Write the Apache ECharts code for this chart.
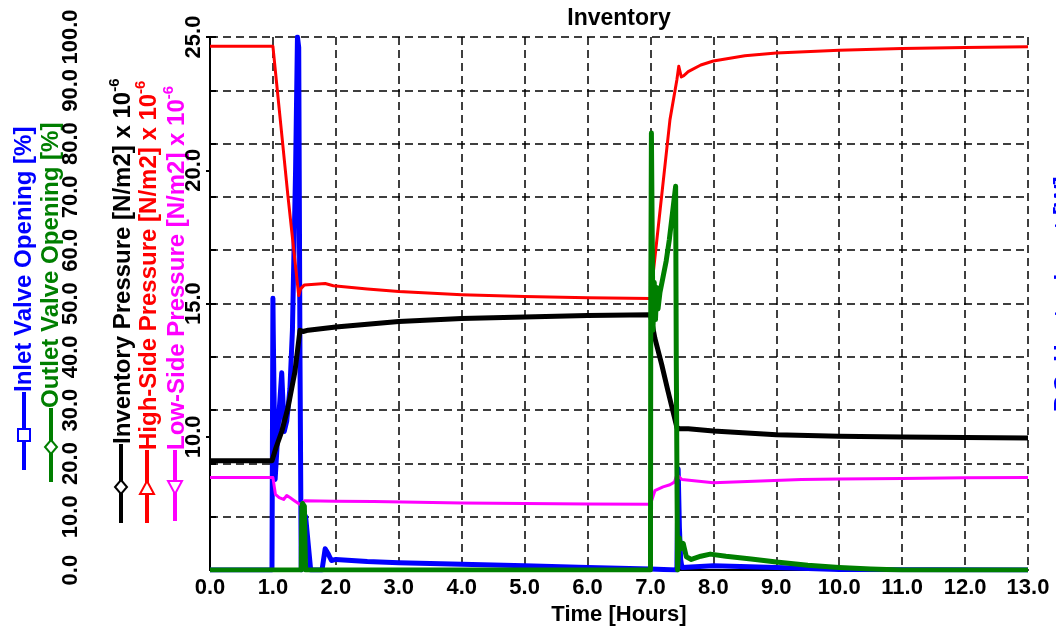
<!DOCTYPE html>
<html><head><meta charset="utf-8">
<script src="https://cdn.jsdelivr.net/npm/echarts@6/dist/echarts.min.js"></script>
<style>html,body{margin:0;padding:0;background:#fff;overflow:hidden}#c{width:1056px;height:631px}</style>
</head><body><div id="c"></div>
<script>
// ---- data (time in hours) ----
const inletT = [0, 0.985, 1.0, 1.005, 1.035, 1.06, 1.1, 1.14, 1.18, 1.22, 1.27, 1.31, 1.36, 1.39, 1.41, 1.43, 1.45, 1.48, 1.52, 1.56, 1.6, 1.78, 1.83, 1.88, 1.93, 2.0, 2.5, 3.0, 4.0, 5.0, 6.0, 7.0, 7.42, 7.44, 7.46, 7.48, 7.5, 8.0, 9.0, 10.0, 13.0];
const inletV = [0, 0, 51, 45, 17, 22, 30, 37, 26, 28, 34, 45, 75, 100, 98, 40, 0, 11, 10, 5, 0, 0, 4, 3, 1.8, 2.0, 1.6, 1.4, 1.1, 0.8, 0.5, 0.2, 0, 19, 8, 2, 0.5, 0.8, 0.5, 0.1, 0];

const outletT = [0, 1.45, 1.46, 1.47, 1.5, 1.51, 1.52, 7.0, 7.005, 7.015, 7.04, 7.06, 7.08, 7.1, 7.12, 7.15, 7.2, 7.25, 7.3, 7.35, 7.4, 7.41, 7.43, 7.46, 7.48, 7.52, 7.57, 7.65, 7.8, 7.95, 8.2, 8.6, 9.0, 9.5, 10.0, 10.5, 11.0, 13.0];
const outletV = [0, 0, 12, 12.5, 12, 5, 0, 0, 50, 82, 45, 54, 47, 53, 49, 52, 55, 58, 62, 67, 72, 40, 0, 6, 4, 5, 2.5, 2, 2.6, 3, 2.6, 2.1, 1.5, 0.9, 0.5, 0.2, 0, 0];

const invT = [0, 0.985, 1.05, 1.14, 1.24, 1.35, 1.43, 1.48, 1.56, 2.0, 3.0, 4.0, 5.0, 6.0, 7.0, 7.07, 7.18, 7.28, 7.42, 7.46, 7.6, 8.0, 9.0, 10.0, 11.0, 12.0, 13.0];
const invP = [9.1, 9.1, 9.6, 10.2, 11.1, 12.45, 14.0, 13.95, 14.0, 14.12, 14.33, 14.44, 14.5, 14.55, 14.58, 13.7, 12.7, 11.7, 10.35, 10.3, 10.3, 10.22, 10.08, 10.02, 9.99, 9.97, 9.96];

const highT = [0, 1.0, 1.24, 1.41, 1.44, 1.5, 1.83, 1.96, 2.5, 3.0, 4.0, 5.0, 6.0, 7.0, 7.02, 7.31, 7.42, 7.45, 7.49, 7.53, 7.6, 7.8, 8.0, 8.5, 9.0, 10.0, 11.0, 12.0, 13.0];
const highP = [24.65, 24.65, 19.0, 15.3, 15.55, 15.7, 15.75, 15.67, 15.55, 15.45, 15.33, 15.26, 15.22, 15.19, 15.19, 21.9, 23.4, 23.9, 23.5, 23.55, 23.7, 23.95, 24.1, 24.3, 24.4, 24.5, 24.57, 24.61, 24.63];

const lowT = [0, 1.0, 1.04, 1.1, 1.17, 1.22, 1.27, 1.33, 1.43, 1.5, 2.0, 2.6, 4.0, 5.0, 6.0, 7.0, 7.07, 7.2, 7.31, 7.38, 7.42, 7.5, 8.0, 9.4, 10.0, 11.0, 12.0, 13.0];
const lowP = [8.47, 8.47, 7.84, 7.72, 7.65, 7.8, 7.72, 7.62, 7.46, 7.6, 7.58, 7.57, 7.52, 7.5, 7.48, 7.47, 7.98, 8.12, 8.2, 8.3, 8.58, 8.4, 8.28, 8.4, 8.42, 8.44, 8.46, 8.47];

const timeTicks = [0, 13, 1];      // min, max, interval (hours)
const valveTicks = [0, 100, 10];   // %
const pressTicks = [5, 25, 5];     // N/m2 x 1e-6

const FONT = '"Liberation Sans", Arial, Helvetica, sans-serif';
const pairs = (t, v) => t.map((x, i) => [x, v[i]]);

const chart = echarts.init(document.getElementById('c'), null, {renderer: 'canvas'});
const dash = {color: '#000', width: 1.5, type: [8, 5]};

function mkLine(name, t, v, color, width, yIdx) {
  return {name, type: 'line', yAxisIndex: yIdx, data: pairs(t, v), showSymbol: false,
    lineStyle: {color, width, join: 'round'}, itemStyle: {color}, clip: true, animation: false};
}

// legend-like axis titles on the left (rotated)
function legendTitle(x, yStart, yLineEnd, yMarker, color, rich, marker) {
  const els = [];
  els.push({type: 'line', shape: {x1: x, y1: yStart, x2: x, y2: yLineEnd},
    style: {stroke: color, lineWidth: 4}});
  const s = 6;
  let m;
  if (marker === 'square') m = {type: 'rect', shape: {x: x - s, y: yMarker - s, width: 2 * s, height: 2 * s}};
  else if (marker === 'diamond') m = {type: 'polygon', shape: {points: [[x, yMarker - 7], [x + 6, yMarker], [x, yMarker + 7], [x - 6, yMarker]]}};
  else if (marker === 'up') m = {type: 'polygon', shape: {points: [[x, yMarker - 7], [x + 7, yMarker + 6], [x - 7, yMarker + 6]]}};
  else m = {type: 'polygon', shape: {points: [[x, yMarker + 7], [x + 7, yMarker - 6], [x - 7, yMarker - 6]]}};
  m.style = {fill: '#fff', stroke: color, lineWidth: 2};
  els.push(m);
  els.push({type: 'text', x: x, y: yStart, rotation: Math.PI / 2,
    style: {text: rich.text, rich: rich.rich, fill: color, font: 'bold 24px ' + FONT,
      align: 'left', verticalAlign: 'middle'}});
  return els;
}
function pressRich(label, color) {
  return {text: '{a|' + label + ' [N/m2] x 10}{s|-6}',
    rich: {a: {fontSize: 24, fontWeight: 'bold', fontFamily: FONT, fill: color, color: color, lineHeight: 28, verticalAlign: 'bottom'},
           s: {fontSize: 15, fontWeight: 'bold', fontFamily: FONT, fill: color, color: color, verticalAlign: 'top', lineHeight: 28}}};
}

const graphics = [].concat(
  legendTitle(24, 392, 470, 435, '#0000ff', {text: 'Inlet Valve Opening [%]'}, 'square'),
  legendTitle(51, 408, 482, 447, '#007f00', {text: 'Outlet Valve Opening [%]'}, 'diamond'),
  legendTitle(121, 444, 523, 487, '#000000', pressRich('Inventory Pressure', '#000'), 'diamond'),
  legendTitle(147, 450, 523, 488, '#ff0000', pressRich('High-Side Pressure', '#ff0000'), 'up'),
  legendTitle(175, 450, 521, 487, '#ff00ff', pressRich('Low-Side Pressure', '#ff00ff'), 'down'),
  [{type: 'text', x: 1064, y: 412, rotation: Math.PI / 2,
    style: {text: 'P.C. Heater Input [W]', fill: '#0000ff', font: 'bold 24px ' + FONT, align: 'left', verticalAlign: 'middle'}},
   {type: 'line', shape: {x1: 1062, y1: 414, x2: 1062, y2: 445}, style: {stroke: '#e8e000', lineWidth: 4}}]
);

chart.setOption({
  backgroundColor: '#fff',
  animation: false,
  title: {text: 'Inventory', left: 614, top: 2, textAlign: 'center',
    textStyle: {fontFamily: FONT, fontWeight: 'bold', fontSize: 23, color: '#000'}},
  grid: {left: 210, right: 28, top: 37, bottom: 58, containLabel: false},
  xAxis: {type: 'value', min: timeTicks[0], max: timeTicks[1], interval: timeTicks[2],
    name: 'Time [Hours]', nameLocation: 'middle', nameGap: 28,
    nameTextStyle: {fontFamily: FONT, fontWeight: 'bold', fontSize: 22, color: '#000'},
    axisLine: {show: true, onZero: false, lineStyle: {color: '#000', width: 2}},
    axisTick: {show: false},
    axisLabel: {margin: 7, color: '#000', fontFamily: FONT, fontWeight: 'bold', fontSize: 22,
      formatter: v => v.toFixed(1)},
    splitLine: {show: true, lineStyle: dash}},
  yAxis: [
    {type: 'value', min: valveTicks[0], max: valveTicks[1], interval: valveTicks[2], position: 'left', offset: 123,
      axisLine: {show: true, lineStyle: {color: '#000', width: 2}},
      axisTick: {show: true, inside: true, length: 6, lineStyle: {color: '#000', width: 2}},
      axisLabel: {rotate: 90, margin: 5, color: '#000', fontFamily: FONT, fontWeight: 'bold', fontSize: 22,
        formatter: v => v.toFixed(1)},
      splitLine: {show: true, lineStyle: dash}},
    {type: 'value', min: pressTicks[0], max: pressTicks[1], interval: pressTicks[2], position: 'left', offset: 0,
      axisLine: {show: true, onZero: false, lineStyle: {color: '#000', width: 2}},
      axisTick: {show: true, inside: false, length: 4, lineStyle: {color: '#000', width: 2}},
      axisLabel: {rotate: 90, margin: 5, showMinLabel: false, color: '#000', fontFamily: FONT, fontWeight: 'bold', fontSize: 22,
        formatter: v => v.toFixed(1)},
      splitLine: {show: false}}
  ],
  series: [
    mkLine('Inlet Valve Opening', inletT, inletV, '#0000ff', 5, 0),
    mkLine('Inventory Pressure', invT, invP, '#000000', 5, 1),
    mkLine('High-Side Pressure', highT, highP, '#ff0000', 3, 1),
    mkLine('Low-Side Pressure', lowT, lowP, '#ff00ff', 3, 1),
    mkLine('Outlet Valve Opening', outletT, outletV, '#007f00', 5, 0)
  ],
  graphic: graphics
});
</script>
</body></html>
